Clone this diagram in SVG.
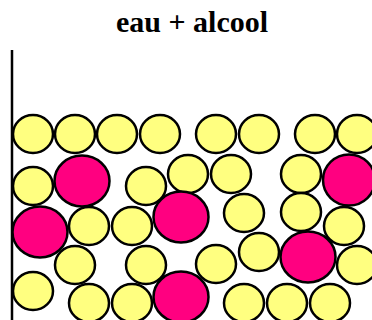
<svg xmlns="http://www.w3.org/2000/svg" width="372" height="320" viewBox="0 0 372 320">
<style>
.w{fill:#FFFF80;stroke:#000;stroke-width:2.5}
.a{fill:#FF0080;stroke:#000;stroke-width:2.5}
.t{font-family:"Liberation Serif","Times New Roman",serif;font-weight:bold;font-size:30px;fill:#000}
</style>
<rect width="372" height="320" fill="#fff"/>
<text class="t" x="192" y="32" text-anchor="middle">eau + alcool</text>
<line x1="12" y1="50" x2="12" y2="320" stroke="#000" stroke-width="2.5"/>
<g id="molecules">
<ellipse class="w" cx="33" cy="134" rx="20" ry="19"/>
<ellipse class="w" cx="75" cy="134" rx="20" ry="19"/>
<ellipse class="w" cx="117" cy="134" rx="20" ry="19"/>
<ellipse class="w" cx="160" cy="134" rx="20" ry="19"/>
<ellipse class="w" cx="216" cy="134" rx="20" ry="19"/>
<ellipse class="w" cx="259" cy="134" rx="20" ry="19"/>
<ellipse class="w" cx="315" cy="134" rx="20" ry="19"/>
<ellipse class="w" cx="357" cy="134" rx="20" ry="19"/>
<ellipse class="w" cx="33" cy="186" rx="20" ry="19"/>
<ellipse class="a" cx="82" cy="181" rx="27.5" ry="25.5"/>
<ellipse class="w" cx="146" cy="186" rx="20" ry="19"/>
<ellipse class="w" cx="188" cy="174" rx="20" ry="19"/>
<ellipse class="w" cx="231" cy="174" rx="20" ry="19"/>
<ellipse class="w" cx="301" cy="174" rx="20" ry="19"/>
<ellipse class="a" cx="349" cy="180" rx="26" ry="25.5"/>
<ellipse class="a" cx="40" cy="232" rx="27.5" ry="25.5"/>
<ellipse class="w" cx="89" cy="226" rx="20" ry="19"/>
<ellipse class="w" cx="132" cy="226" rx="20" ry="19"/>
<ellipse class="a" cx="181" cy="217" rx="27.5" ry="25.5"/>
<ellipse class="w" cx="244" cy="213" rx="20" ry="19"/>
<ellipse class="w" cx="301" cy="212" rx="20" ry="19"/>
<ellipse class="w" cx="344" cy="226" rx="20" ry="19"/>
<ellipse class="w" cx="75" cy="265" rx="20" ry="19"/>
<ellipse class="w" cx="146" cy="265" rx="20" ry="19"/>
<ellipse class="w" cx="216" cy="264" rx="20" ry="19"/>
<ellipse class="w" cx="259" cy="252" rx="20" ry="19"/>
<ellipse class="a" cx="308" cy="257" rx="27.5" ry="25.5"/>
<ellipse class="w" cx="357" cy="265" rx="20" ry="19"/>
<ellipse class="w" cx="33" cy="291" rx="20" ry="19"/>
<ellipse class="a" cx="181" cy="297" rx="27.5" ry="25.5"/>
<ellipse class="w" cx="89" cy="303" rx="20" ry="19"/>
<ellipse class="w" cx="132" cy="303" rx="20" ry="19"/>
<ellipse class="w" cx="244" cy="303" rx="20" ry="19"/>
<ellipse class="w" cx="287" cy="303" rx="20" ry="19"/>
<ellipse class="w" cx="330" cy="303" rx="20" ry="19"/>
</g>
</svg>
